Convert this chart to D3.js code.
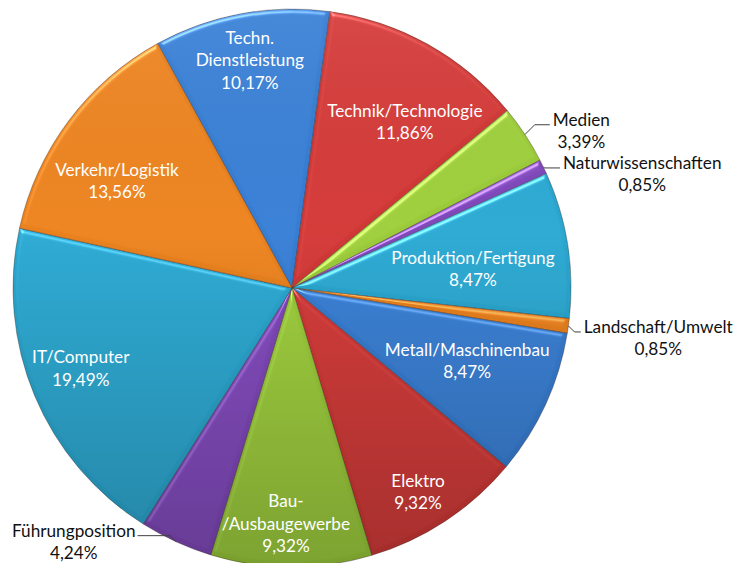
<!DOCTYPE html>
<html>
<head>
<meta charset="utf-8">
<script src="https://cdn.jsdelivr.net/npm/d3@7"></script>
<style>
  html, body { margin: 0; padding: 0; background: #ffffff; }
  svg { display: block; }
  text { font-family: Lato, "Open Sans", sans-serif; }
</style>
</head>
<body>
<svg id="chart" width="750" height="563"></svg>
<script>
// Job fields and their share of all entries (percent)
const categories = [
  "Techn. Dienstleistung", "Technik/Technologie", "Medien", "Naturwissenschaften",
  "Produktion/Fertigung", "Landschaft/Umwelt", "Metall/Maschinenbau", "Elektro",
  "Bau-/Ausbaugewerbe", "Führungposition", "IT/Computer", "Verkehr/Logistik"
];
const shares = [10.17, 11.86, 3.39, 0.85, 8.47, 0.85, 8.47, 9.32, 9.32, 4.24, 19.49, 13.56];
// How each category name is broken onto lines in its label
const nameLines = [
  ["Techn.", "Dienstleistung"], ["Technik/Technologie"], ["Medien"], ["Naturwissenschaften"],
  ["Produktion/Fertigung"], ["Landschaft/Umwelt"], ["Metall/Maschinenbau"], ["Elektro"],
  ["Bau-", "/Ausbaugewerbe"], ["Führungposition"], ["IT/Computer"], ["Verkehr/Logistik"]
];
// Office-style series palette, cycling
const palette = ["#377dd2", "#d03836", "#9bcb3a", "#8048bb", "#2aa6cf", "#e9811e"];

// Label placement: distance from centre (fraction of radius), angular nudge (deg), outside?
const labelPlacement = [
  [0.83, 0, false], [0.72, 5, false], [1.18, 4.9, true], [1.32, 7.75, true],
  [0.652, 3, false], [1.325, 0, true], [0.68, -2, false], [0.86, 1.7, false],
  [0.846, 1.3, false], [1.2, 16.1, true], [0.81, 1.9, false], [0.735, -5.4, false]
];

const svg = d3.select("#chart");
const cx = 292, cy = 288, R = 279;
const lineStep = 22.5;
const fontSize = 17.2;

const fmt = v => d3.format(".2f")(v).replace(".", ",") + "%";

const start = -28.8 * Math.PI / 180;
const pie = d3.pie().sort(null).value(d => d).startAngle(start).endAngle(start + 2 * Math.PI);
const arcs = pie(shares);
const arc = d3.arc().innerRadius(0).outerRadius(R);

const defs = svg.append("defs");
// vertical shading across the whole pie
const shade = defs.append("linearGradient").attr("id", "shade")
  .attr("x1", 0).attr("y1", 0).attr("x2", 0).attr("y2", 1);
shade.append("stop").attr("offset", "0%").attr("stop-color", "#ffffff").attr("stop-opacity", 0.06);
shade.append("stop").attr("offset", "40%").attr("stop-color", "#000000").attr("stop-opacity", 0.0);
shade.append("stop").attr("offset", "100%").attr("stop-color", "#000000").attr("stop-opacity", 0.22);

// soft bevel lit from above
const bevel = defs.append("filter").attr("id", "bevel")
  .attr("color-interpolation-filters", "sRGB")
  .attr("x", "-5%").attr("y", "-5%").attr("width", "110%").attr("height", "110%");
bevel.append("feGaussianBlur").attr("in", "SourceAlpha").attr("stdDeviation", 2).attr("result", "blur");
const spec = bevel.append("feSpecularLighting").attr("in", "blur")
  .attr("surfaceScale", 3).attr("specularConstant", 0.7).attr("specularExponent", 25)
  .attr("lighting-color", "#ffffff").attr("result", "spec");
spec.append("feDistantLight").attr("azimuth", 250).attr("elevation", 35);
bevel.append("feComposite").attr("in", "spec").attr("in2", "SourceAlpha").attr("operator", "in").attr("result", "specIn");
bevel.append("feComposite").attr("in", "SourceGraphic").attr("in2", "specIn")
  .attr("operator", "arithmetic").attr("k1", 0).attr("k2", 1).attr("k3", 0.6).attr("k4", 0);

const g = svg.append("g").attr("transform", `translate(${cx},${cy})`);

g.selectAll("path.slice")
  .data(arcs)
  .join("path")
  .attr("class", "slice")
  .attr("d", arc)
  .attr("fill", (d, i) => palette[i % palette.length])
  .attr("filter", "url(#bevel)")
  .attr("stroke", "rgba(60,40,30,0.45)")
  .attr("stroke-width", 0.8);

g.append("circle").attr("r", R).attr("fill", "url(#shade)").attr("pointer-events", "none");

// labels
const labelLayer = svg.append("g");
arcs.forEach((d, i) => {
  const [rf, nudge, outside] = labelPlacement[i];
  const mid = (d.startAngle + d.endAngle) / 2;
  const ang = mid + nudge * Math.PI / 180;
  const lx = cx + rf * R * Math.sin(ang);
  const ly = cy - rf * R * Math.cos(ang);
  const lines = nameLines[i].concat([fmt(shares[i])]);
  const top = ly - (lines.length - 1) * lineStep / 2;
  const texts = lines.map((t, k) =>
    labelLayer.append("text")
      .attr("x", lx).attr("y", top + k * lineStep)
      .attr("dy", "0.35em")
      .attr("text-anchor", "middle")
      .attr("font-size", fontSize)
      .attr("fill", outside ? "#111111" : "#ffffff")
      .text(t)
  );
  if (outside) {
    const w = texts[0].node().getComputedTextLength();
    const onRight = Math.sin(mid) > 0;
    const edgeX = onRight ? lx - w / 2 - 3 : lx + w / 2 + 2;
    const ay = top + 5;
    const px = cx + R * Math.sin(mid);
    const py = cy - R * Math.cos(mid);
    const dy = Math.abs(ay - py);
    const ex = px + (onRight ? dy : -dy);
    labelLayer.append("path")
      .attr("d", d3.line()([[px, py], [ex, ay], [edgeX, ay]]))
      .attr("fill", "none")
      .attr("stroke", "#404040")
      .attr("stroke-width", 1);
  }
});
</script>
</body>
</html>
